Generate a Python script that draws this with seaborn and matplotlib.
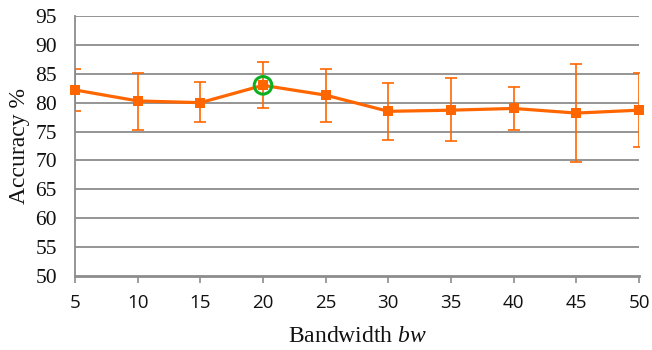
import matplotlib
matplotlib.use("Agg")
import matplotlib.pyplot as plt
import seaborn as sns
import numpy as np
import pandas as pd

bandwidth = [5, 10, 15, 20, 25, 30, 35, 40, 45, 50]
accuracy = [82.2, 80.3, 80.0, 83.0, 81.3, 78.5, 78.7, 79.0, 78.2, 78.7]
upper = [85.9, 85.2, 83.5, 87.0, 85.9, 83.4, 84.2, 82.7, 86.7, 85.2]
lower = [78.6, 75.3, 76.6, 79.0, 76.6, 73.6, 73.3, 75.3, 69.7, 72.3]
best_bw = [20]
best_acc = [83.0]
y_ticks = [50, 55, 60, 65, 70, 75, 80, 85, 90, 95]

df = pd.DataFrame({"bw": bandwidth, "acc": accuracy})

sns.set_style("white")
plt.rcParams["mathtext.fontset"] = "custom"
plt.rcParams["mathtext.it"] = "Liberation Serif:italic"
plt.rcParams["mathtext.rm"] = "Liberation Serif"

orange = "#FF6600"
grid_c = "#8C8C8C"
text_c = "#111111"

fig = plt.figure(figsize=(6.52, 3.5), dpi=100)
ax = fig.add_axes([75 / 652, 1 - 276 / 350, (639 - 75) / 652, (276 - 16) / 350])

for y in y_ticks[1:]:
    ax.axhline(y, color=grid_c, lw=1.3, zorder=1)

acc = np.array(accuracy)
yerr = np.vstack([acc - np.array(lower), np.array(upper) - acc])
ax.errorbar(bandwidth, accuracy, yerr=yerr, fmt="none", ecolor=orange,
            elinewidth=1.2, capsize=4.5, capthick=1.2, zorder=3)

sns.lineplot(data=df, x="bw", y="acc", ax=ax, color=orange, lw=2.3,
             marker="s", markersize=7.5, markeredgewidth=0, zorder=4,
             clip_on=False)
ax.scatter(best_bw, best_acc, s=160, facecolors="none", edgecolors="#0DB020",
           linewidths=2.2, zorder=5, clip_on=False)

ax.set_xlim(5, 50)
ax.set_ylim(50, 95)
ax.set_xticks(bandwidth)
ax.set_yticks(y_ticks)
ax.set_xticklabels([str(v) for v in bandwidth], fontfamily="Open Sans", fontsize=13.5)
ax.set_yticklabels([str(v) for v in y_ticks], fontfamily="Liberation Serif", fontsize=15.5)

for s in ["top", "right"]:
    ax.spines[s].set_visible(False)
ax.spines["left"].set_color(grid_c)
ax.spines["left"].set_linewidth(1.3)
ax.spines["bottom"].set_color(grid_c)
ax.spines["bottom"].set_linewidth(2.0)
ax.tick_params(axis="x", which="both", bottom=True, length=5, width=1.2, color=grid_c, pad=8, labelcolor=text_c)
ax.tick_params(axis="y", which="both", left=False, length=0, pad=13, labelcolor=text_c)

ax.set_xlabel("Bandwidth $\\mathit{bw}$", fontfamily="Liberation Serif", fontsize=17, labelpad=10, color=text_c)
ax.set_ylabel("Accuracy %", fontfamily="Liberation Serif", fontsize=17, labelpad=4, color=text_c)

fig.savefig("out.png", dpi=100)
